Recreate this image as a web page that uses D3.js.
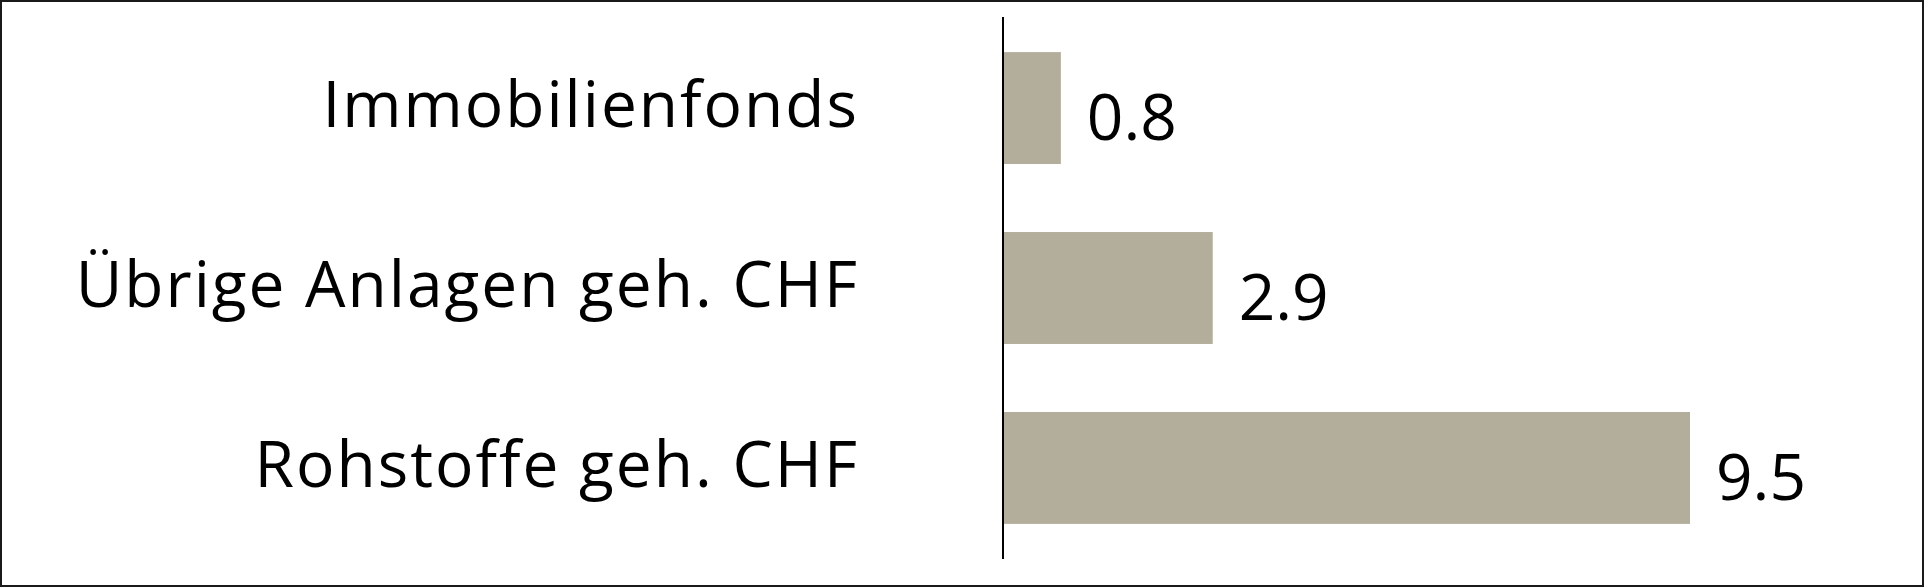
<html>
  <head>
    <meta charset='utf-8'>
    <script src='https://d3js.org/d3.v7.min.js'></script>
    <style>
      body { margin: 0; background: #fff; }
      text { font-family: 'Open Sans', sans-serif; fill: #000; font-weight: 400; }
    </style>
  </head>
  <body>
    <div id='chart'></div>
    <script>
        // data
        const categories = ['Immobilienfonds', 'Übrige Anlagen geh. CHF', 'Rohstoffe geh. CHF'];
        const values = [0.8, 2.9, 9.5];
        const valueLabels = ['0.8', '2.9', '9.5'];

        const width = 1925, height = 588;
        const margin = { left: 1003, right: 235, top: 17, bottom: 29 };

        var svg = d3.select('#chart').append('svg')
                    .attr('width', width)
                    .attr('height', height);

        // frame
        svg.append('rect')
           .attr('x', 1).attr('y', 1)
           .attr('width', width - 3).attr('height', height - 3)
           .attr('fill', 'none')
           .attr('stroke', '#1a1a1a')
           .attr('stroke-width', 2);

        const x = d3.scaleLinear()
                    .domain([0, 9.5])
                    .range([margin.left, 1690]);
        const y = d3.scaleBand()
                    .domain(categories)
                    .range([margin.top, height - margin.bottom])
                    .paddingInner(0.378)
                    .paddingOuter(0.195);

        var rows = categories.map((c, i) => ({ cat: c, v: values[i], lab: valueLabels[i] }));

        var bar_g = svg.append('g');
        bar_g.selectAll('rect').data(rows).enter().append('rect')
             .attr('x', x(0))
             .attr('y', d => y(d.cat))
             .attr('width', d => x(d.v) - x(0))
             .attr('height', y.bandwidth())
             .attr('fill', '#b3ad9c');

        // value labels
        svg.append('g').selectAll('text').data(rows).enter().append('text')
           .attr('x', d => x(d.v) + 26)
           .attr('y', d => y(d.cat) + y.bandwidth() / 2 + 32)
           .attr('font-size', 64)
           .text(d => d.lab);

        // category labels
        svg.append('g').selectAll('text').data(rows).enter().append('text')
           .attr('x', 859)
           .attr('y', d => y(d.cat) + y.bandwidth() / 2 + 19)
           .attr('text-anchor', 'end')
           .attr('font-size', 64)
           .attr('letter-spacing', 2)
           .text(d => d.cat);

        // axis line
        svg.append('line')
           .attr('x1', x(0)).attr('x2', x(0))
           .attr('y1', margin.top).attr('y2', height - margin.bottom)
           .attr('stroke', '#000')
           .attr('stroke-width', 2);
    </script>
  </body>
</html>
